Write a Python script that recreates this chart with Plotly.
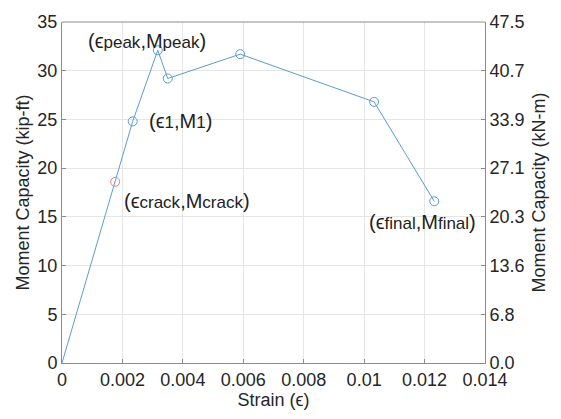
import plotly.graph_objects as go

strain = [0.0, 0.00176, 0.00234, 0.00317, 0.00350, 0.00590, 0.01033, 0.01232]
moment = [0.0, 18.6, 24.8, 32.1, 29.2, 31.7, 26.8, 16.6]
marker_colors = ["rgba(0,0,0,0)", "#E8836B", "#5B9BD5", "#5B9BD5", "#5B9BD5", "#5B9BD5", "#5B9BD5", "#5B9BD5"]

x_ticks = [0, 0.002, 0.004, 0.006, 0.008, 0.01, 0.012, 0.014]
x_ticklabels = ["0", "0.002", "0.004", "0.006", "0.008", "0.01", "0.012", "0.014"]
y_ticks = [0, 5, 10, 15, 20, 25, 30, 35]
kipft_to_knm = 1.35582
y2_ticklabels = [f"{v * kipft_to_knm:.1f}" for v in y_ticks]


def sub(s):
    return f'<span style="font-size:17px">{s}</span>'


labels = [
    # (index, text, xanchor, xshift, yshift)
    (1, f"(ϵ{sub('crack')},M{sub('crack')})", "left", 7, -19),
    (2, f"(ϵ{sub('1')},M{sub('1')})", "left", 14, 0),
    (3, f"(ϵ{sub('peak')},M{sub('peak')})", "center", -11, 9),
    (7, f"(ϵ{sub('final')},M{sub('final')})", "center", -12, -21),
]

FONT = "Liberation Sans, Arial, sans-serif"
fig = go.Figure()
fig.add_trace(go.Scatter(
    x=strain, y=moment, mode="lines+markers",
    line=dict(color="#5B9BD5", width=1),
    marker=dict(symbol="circle-open", size=9, color=marker_colors, line=dict(width=1)),
    showlegend=False, hoverinfo="skip",
))
fig.add_trace(go.Scatter(x=[0], y=[0], yaxis="y2", mode="markers",
                         marker=dict(opacity=0), showlegend=False, hoverinfo="skip"))

for idx, text, xa, xs, ys in labels:
    fig.add_annotation(x=strain[idx], y=moment[idx], text=text, showarrow=False,
                       xanchor=xa, yanchor="middle", xshift=xs, yshift=ys,
                       font=dict(family=FONT, size=20, color="#222222"))

axis_common = dict(showline=True, linecolor="#8c8c8c", linewidth=1, mirror=False,
                   ticks="inside", ticklen=4, tickcolor="#8c8c8c",
                   tickfont=dict(family=FONT, size=18, color="#262626"),
                   zeroline=False)

fig.update_layout(
    width=561, height=419,
    margin=dict(l=62, r=76, t=13, b=56),
    paper_bgcolor="white", plot_bgcolor="white",
    font=dict(family=FONT, size=18, color="#262626"),
    xaxis=dict(range=[0, 0.014], tickvals=x_ticks, ticktext=x_ticklabels,
               showgrid=True, gridcolor="#e6e6e6",
               title=dict(text="Strain (ϵ)", font=dict(family=FONT, size=18), standoff=4),
               **axis_common),
    yaxis=dict(range=[0, 35], tickvals=y_ticks, showgrid=True, gridcolor="#e6e6e6",
               title=dict(text="Moment Capacity (kip-ft)", font=dict(family=FONT, size=18), standoff=3),
               **axis_common),
    yaxis2=dict(range=[0, 35], tickvals=y_ticks, ticktext=y2_ticklabels,
                overlaying="y", side="right", showgrid=False,
                title=dict(text="Moment Capacity (kN-m)", font=dict(family=FONT, size=18), standoff=8),
                **axis_common),
    shapes=[dict(type="line", xref="paper", yref="paper", x0=0, x1=1, y0=1, y1=1,
                 line=dict(color="#8c8c8c", width=1))],
)

fig.write_html("out.html")
